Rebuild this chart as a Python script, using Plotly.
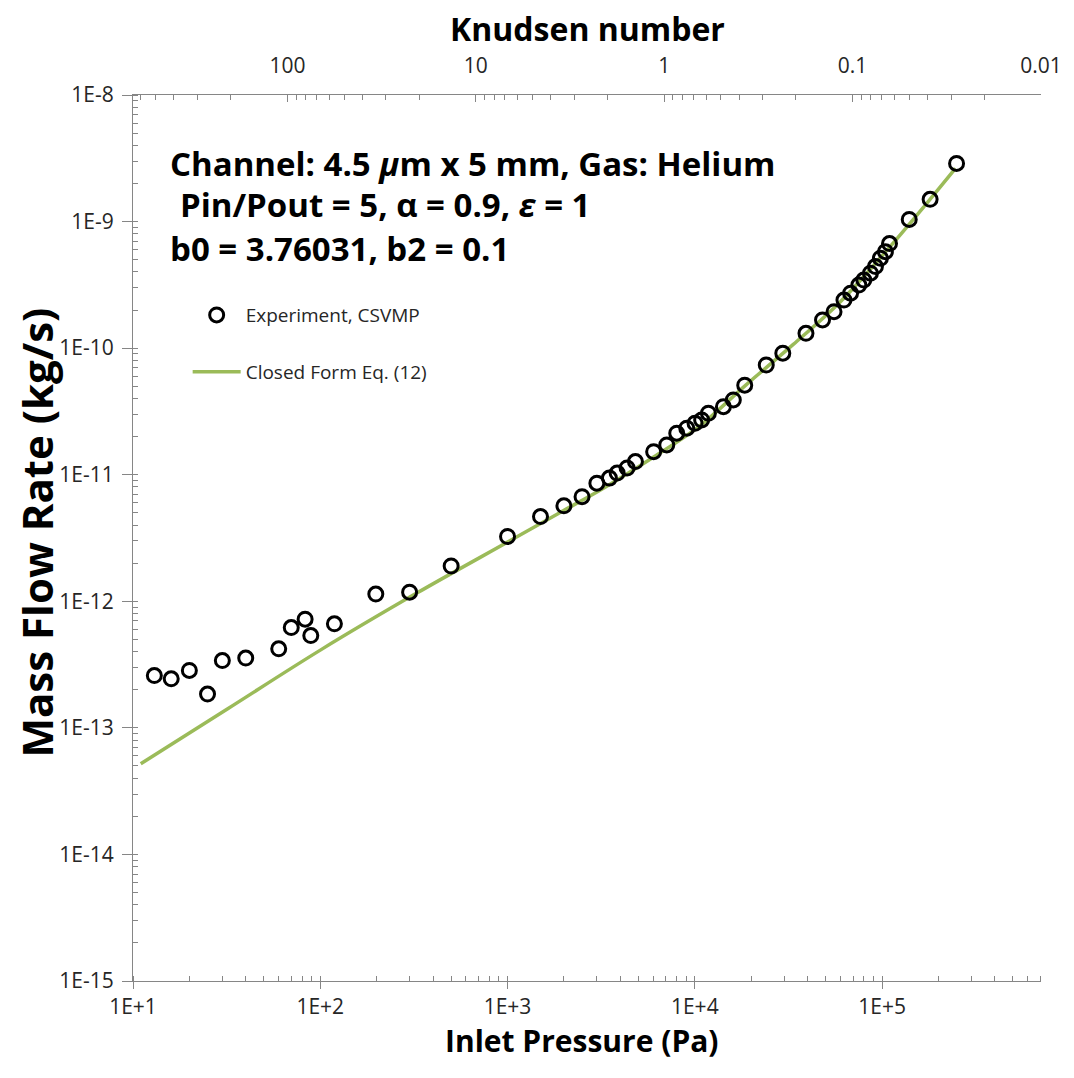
import math
import plotly.graph_objects as go

# Experimental data (Experiment, CSVMP)
exp_pressure = [13, 16, 20, 25, 30, 40, 60, 70, 83, 89, 119, 198, 300, 500, 1000,
                1500, 2000, 2500, 3000, 3500, 3850, 4350, 4820, 6030, 7085, 8010,
                9060, 10030, 10880, 11820, 14220, 16060, 18480, 24080, 29510,
                39240, 48100, 55400, 62600, 67900, 75200, 79900, 86700, 92200,
                98000, 104200, 109600, 139700, 180600, 250000]
exp_mass_flow = [2.59e-13, 2.44e-13, 2.84e-13, 1.85e-13, 3.40e-13, 3.56e-13, 4.21e-13,
                 6.20e-13, 7.22e-13, 5.36e-13, 6.64e-13, 1.14e-12, 1.18e-12, 1.90e-12,
                 3.25e-12, 4.67e-12, 5.68e-12, 6.71e-12, 8.57e-12, 9.4e-12, 1.03e-11,
                 1.13e-11, 1.27e-11, 1.52e-11, 1.72e-11, 2.13e-11, 2.33e-11, 2.55e-11,
                 2.71e-11, 3.06e-11, 3.45e-11, 3.90e-11, 5.1e-11, 7.36e-11, 9.12e-11,
                 1.31e-10, 1.67e-10, 1.94e-10, 2.40e-10, 2.72e-10, 3.15e-10, 3.45e-10,
                 3.91e-10, 4.41e-10, 5.13e-10, 5.78e-10, 6.70e-10, 1.04e-9, 1.50e-9,
                 2.88e-9]

# Closed form Eq. (12) curve
model_pressure = [11.0, 31.9, 101.6, 324, 1035, 1849, 3304, 5888, 10520, 18790,
                  33570, 60100, 107200, 170200, 246600]
model_mass_flow = [5.2e-14, 1.41e-13, 4.17e-13, 1.15e-12, 3.02e-12, 4.9e-12, 7.94e-12,
                   1.35e-11, 2.40e-11, 5.13e-11, 1.07e-10, 2.34e-10, 6.03e-10,
                   1.35e-9, 2.63e-9]

x_tickvals = [1e1, 1e2, 1e3, 1e4, 1e5]
x_ticktext = ["1E+1", "1E+2", "1E+3", "1E+4", "1E+5"]
y_tickvals = [1e-15, 1e-14, 1e-13, 1e-12, 1e-11, 1e-10, 1e-9, 1e-8]
y_ticktext = ["1E-15", "1E-14", "1E-13", "1E-12", "1E-11", "1E-10", "1E-9", "1E-8"]
kn_tickvals = [100, 10, 1, 0.1, 0.01]
kn_ticktext = ["100", "10", "1", "0.1", "0.01"]
x_range = [10, 7.06e5]
kn_range = [660, 0.01]
y_range = [1e-15, 1e-8]

FONT = "Open Sans"
AXIS_COLOR = "#868686"
TXT = "#262626"
GREEN = "#9BBB59"
TICK_SIZE = 21

fig = go.Figure()

fig.add_trace(go.Scatter(
    x=model_pressure, y=model_mass_flow, mode="lines",
    name="Closed Form Eq. (12)",
    line=dict(color=GREEN, width=3.5, shape="spline"),
    legendgroup="b", legendrank=2,
))
fig.add_trace(go.Scatter(
    x=exp_pressure, y=exp_mass_flow, mode="markers",
    name="Experiment, CSVMP",
    marker=dict(symbol="circle", size=14, color="rgba(0,0,0,0)",
                line=dict(color="black", width=3)),
    legendgroup="a", legendrank=1,
))
# invisible trace to activate the top Knudsen axis
fig.add_trace(go.Scatter(x=[], y=[], xaxis="x2", yaxis="y", showlegend=False,
                         hoverinfo="skip"))

fig.update_layout(
    width=1074, height=1078,
    margin=dict(l=133, r=28, t=95, b=97),
    paper_bgcolor="white", plot_bgcolor="white",
    font=dict(family=FONT, color=TXT),
    showlegend=True,
    legend=dict(x=0.0602, y=0.773, xanchor="left", yanchor="top",
                bgcolor="rgba(0,0,0,0)", font=dict(size=19, family=FONT, color=TXT),
                tracegroupgap=29, itemwidth=48, traceorder="grouped"),
    xaxis=dict(type="log", range=[math.log10(x_range[0]), math.log10(x_range[1])],
               showgrid=False, zeroline=False, showline=True, linecolor=AXIS_COLOR,
               linewidth=1, ticks="outside", ticklen=7, tickcolor=AXIS_COLOR,
               tickvals=x_tickvals, ticktext=x_ticktext,
               tickfont=dict(size=TICK_SIZE, family=FONT, color=TXT),
               minor=dict(ticks="inside", ticklen=5, tickcolor=AXIS_COLOR, dtick="D1",
                          showgrid=False),
               mirror=False),
    xaxis2=dict(type="log", overlaying="x", side="top",
                range=[math.log10(kn_range[0]), math.log10(kn_range[1])],
                showgrid=False, zeroline=False, showline=True, linecolor=AXIS_COLOR,
                linewidth=1, ticks="inside", ticklen=7, tickcolor=AXIS_COLOR,
                tickvals=kn_tickvals, ticktext=kn_ticktext,
                tickfont=dict(size=TICK_SIZE, family=FONT, color=TXT),
                ticklabelstandoff=13,
                minor=dict(ticks="inside", ticklen=5, tickcolor=AXIS_COLOR, dtick="D1",
                           showgrid=False)),
    yaxis=dict(type="log", range=[math.log10(y_range[0]), math.log10(y_range[1])],
               showgrid=False, zeroline=False, showline=True, linecolor=AXIS_COLOR,
               linewidth=1, ticks="outside", ticklen=10, tickcolor=AXIS_COLOR,
               tickvals=y_tickvals, ticktext=y_ticktext,
               tickfont=dict(size=TICK_SIZE, family=FONT, color=TXT),
               ticklabelstandoff=4,
               minor=dict(ticks="inside", ticklen=5, tickcolor=AXIS_COLOR, dtick="D1",
                          showgrid=False)),
)

annots = [
    dict(text="<b>Knudsen number</b>", x=0.5005, y=1.0756, size=32, angle=0, xanchor="center"),
    dict(text="<b>Inlet Pressure (Pa)</b>", x=0.494, y=-0.0666, size=30, angle=0, xanchor="center"),
    dict(text="<b>Mass Flow Rate (kg/s)</b>", x=-0.1073, y=0.5056, size=42, angle=-90, xanchor="center"),
    dict(text="<b>Channel: 4.5 <i>μ</i>m x 5 mm, Gas: Helium</b>", x=0.0383, y=0.923, size=33, angle=0, xanchor="left"),
    dict(text="<b>Pin/Pout = 5, α = 0.9, <i>ε</i> = 1</b>", x=0.0493, y=0.876, size=33, angle=0, xanchor="left"),
    dict(text="<b>b0 = 3.76031, b2 = 0.1</b>", x=0.0383, y=0.827, size=33, angle=0, xanchor="left"),
]
for a in annots:
    fig.add_annotation(text=a["text"], x=a["x"], y=a["y"], xref="paper", yref="paper",
                       xanchor=a["xanchor"], yanchor="middle", showarrow=False,
                       textangle=a["angle"],
                       font=dict(size=a["size"], family=FONT, color="black"))

fig.write_html("out.html")
